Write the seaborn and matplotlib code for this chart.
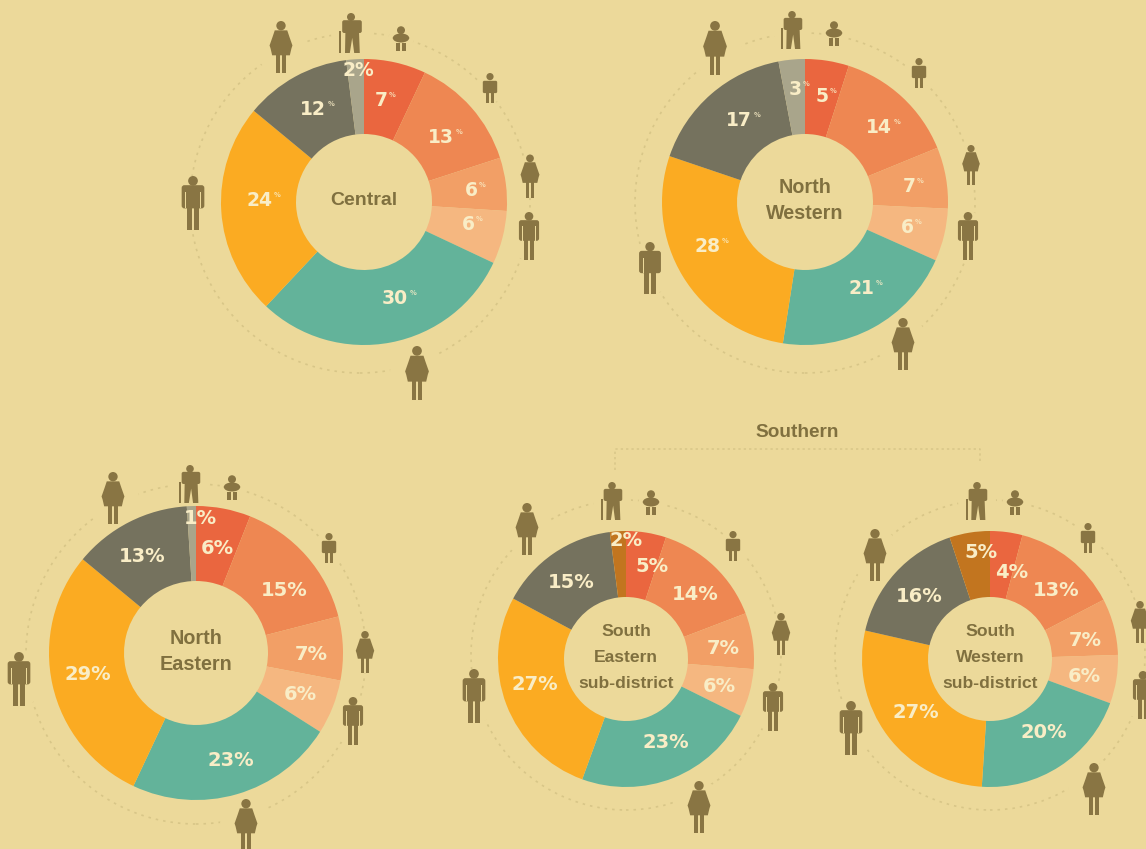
import matplotlib
matplotlib.use("Agg")
import matplotlib.pyplot as plt
import seaborn as sns
from matplotlib.patches import Circle, FancyBboxPatch, Polygon, Rectangle, Ellipse

# ---- data (percent shares, clockwise from the top) ----
groups = ["Infant", "Child", "Teen girl", "Teen boy", "Women", "Men", "Older women", "Elderly"]
central = [7, 13, 6, 6, 30, 24, 12, 2]
north_western = [5, 14, 7, 6, 21, 28, 17, 3]
north_eastern = [6, 15, 7, 6, 23, 29, 13, 1]
south_eastern = [5, 14, 7, 6, 23, 27, 15, 2]
south_western = [4, 13, 7, 6, 20, 27, 16, 5]
title_central = ["Central"]
title_nw = ["North", "Western"]
title_ne = ["North", "Eastern"]
title_se = ["South", "Eastern", "sub-district"]
title_sw = ["South", "Western", "sub-district"]

# ---- style ----
W, H = 1146, 849
BG = "#ECD99A"
ICON = "#897543"
TXT = "#80703F"
LABEL = "#F9EDC6"
RING = "#D8C688"
HEAD_FONT = ["Liberation Sans", "DejaVu Sans"]
base = ["#EA663F", "#EE8752", "#F29F66", "#F5B780", "#63B39A", "#FBAB22", "#75725E"]
col_top = sns.color_palette(base + ["#A9A58B"])
col_south = sns.color_palette(base + ["#C2751F"])

sns.set_theme(style="white", rc={"figure.facecolor": BG, "axes.facecolor": BG})
fig = plt.figure(figsize=(W / 100, H / 100), dpi=100, facecolor=BG)
ax = fig.add_axes([0, 0, 1, 1])


def Y(py):
    return H - py


def person(cx, cy, h, kind, icon_z=5):
    y0 = Y(cy)
    ax.add_patch(Circle((cx, y0), h * 0.5, fc=BG, ec="none", zorder=2))

    def P(x, y):
        return (cx + x * h, y0 + y * h)

    def rect(x1, y1, x2, y2, c=ICON, z=icon_z):
        ax.add_patch(Rectangle(P(x1, y1), (x2 - x1) * h, (y2 - y1) * h, fc=c, ec="none", zorder=z))

    def poly(*pts):
        ax.add_patch(Polygon([P(*p) for p in pts], closed=True, fc=ICON, ec="none", zorder=icon_z))

    def box(x1, y1, x2, y2, r=0.05):
        ax.add_patch(FancyBboxPatch(P(x1 + r, y1 + r), (x2 - x1 - 2 * r) * h, (y2 - y1 - 2 * r) * h,
                                    boxstyle=f"round,pad={r * h},rounding_size={r * h}",
                                    fc=ICON, ec="none", zorder=icon_z))

    def head(y, r):
        ax.add_patch(Circle(P(0, y), r * h, fc=ICON, ec="none", zorder=icon_z))

    if kind == "man":
        head(0.41, 0.09)
        box(-0.21, -0.1, 0.21, 0.33)
        rect(-0.11, -0.5, -0.012, 0.0)
        rect(0.012, -0.5, 0.11, 0.0)
        rect(-0.14, -0.1, -0.125, 0.2, c=BG, z=icon_z + 0.1)
        rect(0.125, -0.1, 0.14, 0.2, c=BG, z=icon_z + 0.1)
    elif kind == "woman":
        head(0.41, 0.09)
        poly((-0.12, 0.32), (0.12, 0.32), (0.16, 0.2), (0.22, 0.03), (0.2, -0.03), (0.17, -0.16),
             (-0.17, -0.16), (-0.2, -0.03), (-0.22, 0.03), (-0.16, 0.2))
        rect(-0.1, -0.5, -0.02, -0.14)
        rect(0.02, -0.5, 0.1, -0.14)
    elif kind == "elderly":
        head(0.4, 0.1)
        box(-0.22, 0.0, 0.27, 0.32)
        poly((-0.14, 0.03), (0.2, 0.03), (0.22, -0.5), (0.08, -0.5), (0.03, -0.12),
             (-0.03, -0.5), (-0.15, -0.5))
        rect(-0.3, -0.5, -0.25, 0.05)
    elif kind == "baby":
        head(0.35, 0.16)
        ax.add_patch(Ellipse(P(0, 0.04), 0.66 * h, 0.36 * h, fc=ICON, ec="none", zorder=icon_z))
        rect(-0.2, -0.46, -0.04, -0.14)
        rect(0.04, -0.46, 0.2, -0.14)
    elif kind == "child":
        head(0.38, 0.12)
        box(-0.24, -0.17, 0.24, 0.24)
        rect(-0.13, -0.5, -0.025, -0.12)
        rect(0.025, -0.5, 0.13, -0.12)


def donut(values, colors, center_px, r_out, r_in, r_ring, ring_c, title, fs_title, line_h,
          lab_xy, lab_fs, pct_small, icons):
    cx, cy = center_px
    ax.add_patch(Circle((ring_c[0], Y(ring_c[1])), r_ring, fc="none", ec=RING, lw=1.2,
                        ls=(0, (1.5, 3)), zorder=1))
    wedges, _ = ax.pie(values, colors=colors, startangle=90, counterclock=False, radius=r_out,
                       center=(cx, Y(cy)), normalize=True, wedgeprops=dict(width=r_out - r_in, lw=0))
    for w in wedges:
        w.set_zorder(3)
    for v, (lx, ly) in zip(values, lab_xy):
        if pct_small and v != pct_small:
            half = 14 if v >= 10 else 7
            ax.text(lx, Y(ly), str(v), ha="center", va="center", color=LABEL, fontsize=lab_fs,
                    family="DejaVu Sans", fontweight="bold", zorder=6)
            ax.text(lx + half + 1, Y(ly - 5), "%", ha="left", va="center", color=LABEL, fontsize=lab_fs * 0.36,
                    family="DejaVu Sans", fontweight="bold", alpha=0.8, zorder=6)
        else:
            ax.text(lx, Y(ly), f"{v}%", ha="center", va="center", color=LABEL, fontsize=lab_fs,
                    family="DejaVu Sans", fontweight="bold", zorder=6)
    n = len(title)
    for i, t in enumerate(title):
        ax.text(cx, Y(cy - 2 + (i - (n - 1) / 2) * line_h), t, ha="center", va="center",
                family=HEAD_FONT, fontweight="bold", fontsize=fs_title, color=TXT, zorder=6)
    for (ix, iy, ih), k in zip(icons, ["baby", "child", "woman", "man", "woman", "man", "woman", "elderly"]):
        person(ix, iy, ih, k)


donut(central, col_top, (364, 202), 143, 68, 170, (360, 203), title_central, 14, 26,
      [(381, 100), (441, 137), (471, 190), (468, 224), (395, 298), (259, 200), (313, 109), (358, 70)],
      13.5, 2,
      [(401, 39, 25), (490, 88, 30), (530, 176, 43), (529, 236, 48), (417, 373, 54),
       (193, 203, 54), (281, 47, 52), (351, 33, 40)])
donut(north_western, col_top, (805, 202), 143, 68, 170, (805, 203), title_nw, 14.2, 26,
      [(822, 96), (879, 127), (909, 186), (907, 227), (861, 288), (707, 246), (739, 120), (795, 89)],
      13.5, 99,
      [(834, 34, 25), (919, 73, 30), (971, 165, 40), (968, 236, 48), (903, 344, 52),
       (650, 268, 52), (715, 48, 54), (792, 30, 38)])
donut(north_eastern, col_top, (196, 653), 147, 72, 170, (196, 654), title_ne, 14.2, 26,
      [(217, 548), (284, 590), (311, 655), (300, 695), (231, 761), (88, 674), (142, 556), (200, 519)],
      14, None,
      [(232, 488, 25), (329, 548, 30), (365, 652, 42), (353, 721, 48), (246, 825, 52),
       (19, 679, 54), (113, 498, 52), (190, 484, 38)])
donut(south_eastern, col_south, (626, 659), 128, 62, 155, (626, 655), title_se, 12.6, 26,
      [(652, 566), (695, 595), (723, 648), (719, 686), (666, 743), (535, 684), (571, 582), (626, 541)],
      14, None,
      [(651, 503, 25), (733, 546, 30), (781, 634, 42), (773, 707, 48), (699, 807, 52),
       (474, 696, 54), (527, 529, 52), (612, 501, 38)])
donut(south_western, col_south, (990, 659), 128, 62, 155, (990, 655), title_sw, 12.6, 26,
      [(1012, 573), (1056, 590), (1085, 641), (1084, 677), (1044, 733), (916, 712), (919, 597), (981, 553)],
      14, None,
      [(1015, 503, 25), (1088, 538, 30), (1140, 622, 42), (1143, 695, 48), (1094, 789, 52),
       (851, 728, 54), (875, 555, 52), (977, 501, 38)])

# Southern bracket
ax.plot([615, 615, 980, 980], [Y(470), Y(449), Y(449), Y(463)], color=RING, lw=1.1, ls=(0, (1.5, 2)), zorder=1)
ax.text(797, Y(432), "Southern", ha="center", va="center", family=HEAD_FONT, fontweight="bold",
        fontsize=13.7, color=TXT)

ax.set_xlim(0, W)
ax.set_ylim(0, H)
ax.set_aspect("equal")
ax.axis("off")
fig.savefig("out.png", dpi=100, facecolor=BG)
